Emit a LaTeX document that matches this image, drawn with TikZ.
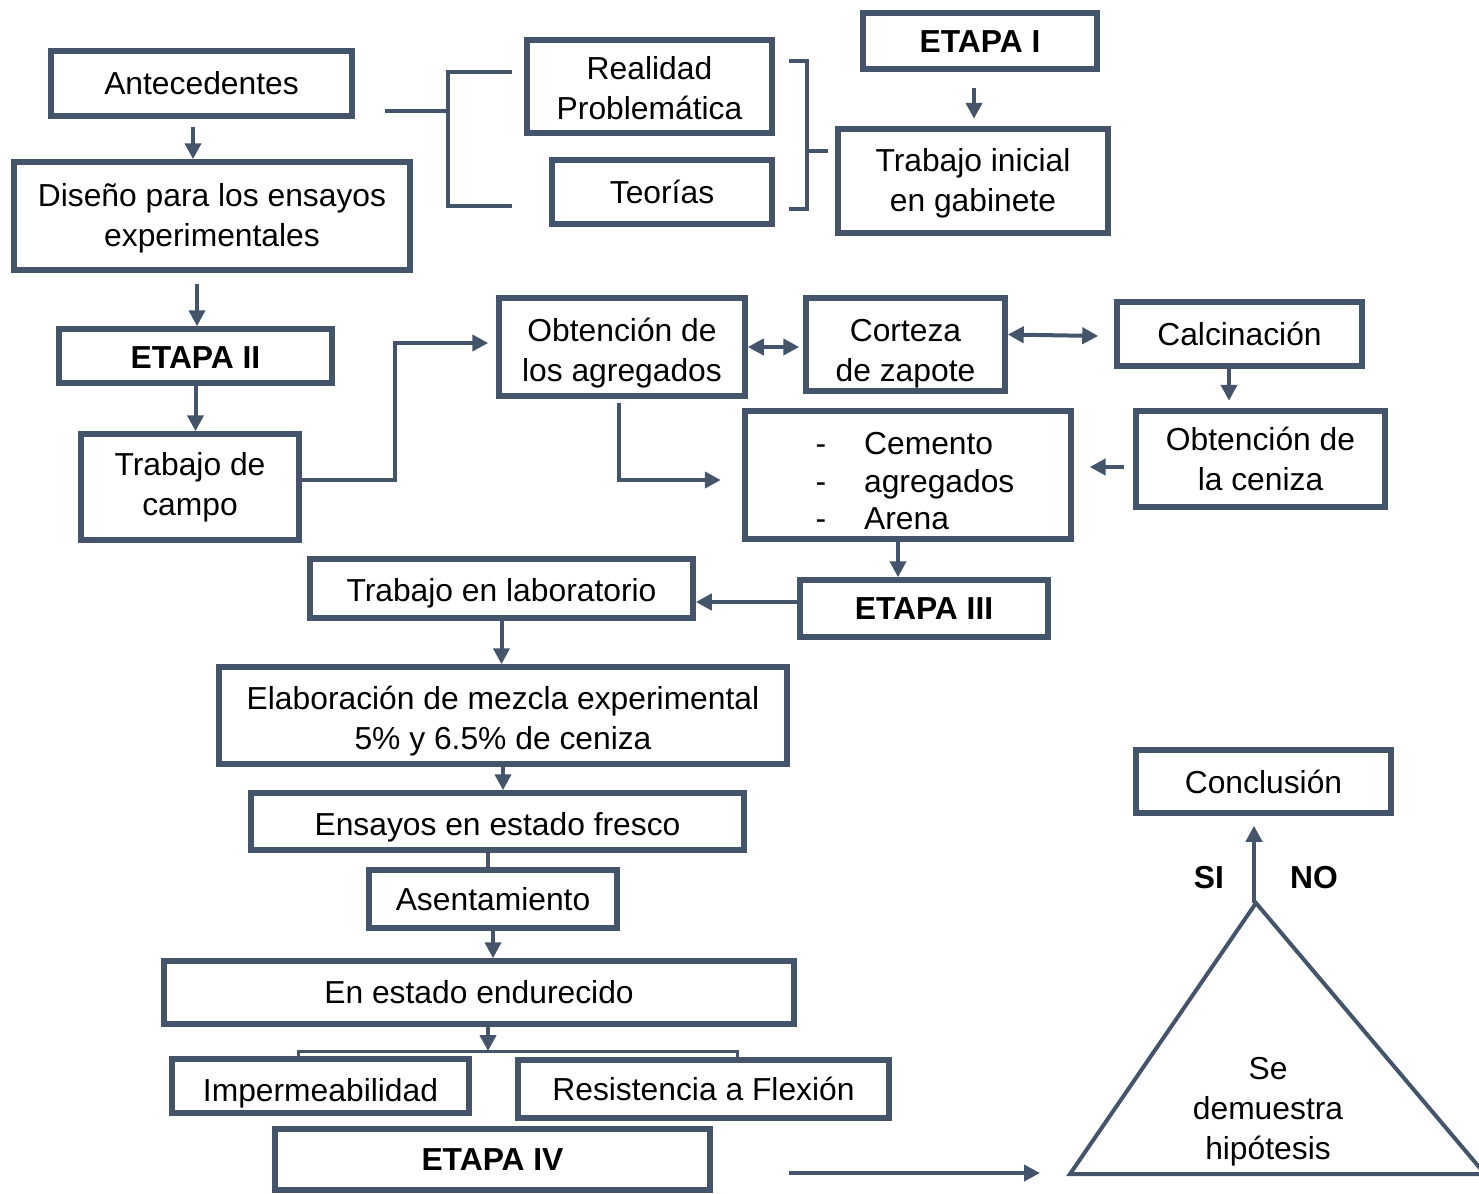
\documentclass[tikz,border=0pt]{standalone}
\usepackage{fontspec}
\setmainfont{Liberation Sans}
\usetikzlibrary{arrows.meta}
\definecolor{slate}{HTML}{44546A}
\newcommand\lowtext[2]{\raisebox{-#1}[\height][\depth]{\begin{tabular}{@{}c@{}}#2\end{tabular}}}
\tikzset{box/.style = {draw=slate, line width=2.75pt, rectangle, inner sep=0pt, align=center},
    arr/.style = {draw=slate, line width=2pt, -{Triangle[width=8pt,length=8pt]}},
    darr/.style = {draw=slate, line width=2pt, {Triangle[width=8pt,length=8pt]}-{Triangle[width=8pt,length=8pt]}},
    conn/.style = {draw=slate, line width=2pt}}

\begin{document}
\begin{tikzpicture}[x=0.5pt,y=-0.5pt,font=\fontsize{15.9pt}{20pt}\selectfont]
    \useasboundingbox(0,0)rectangle(1479,1194);
    \node[box,minimum width=150.5pt,minimum height=32.5pt](ante)at(201.5,83.5){Antecedentes};
    \node[box,minimum width=198pt,minimum height=54pt](dis)at(212,216){\lowtext{1pt}{Diseño para los ensayos\\experimentales}};
    \node[box,minimum width=122.5pt,minimum height=46.5pt](real)at(649.5,86.5){\lowtext{2.25pt}{Realidad\\Problemática}};
    \node[box,minimum width=110pt,minimum height=32pt](teo)at(662,192){Teorías};
    \node[box,minimum width=117pt,minimum height=28pt](et1)at(980,41){\lowtext{1.5pt}{\textbf{ETAPA I}}};
    \node[box,minimum width=135pt,minimum height=52pt](ini)at(973,181){\lowtext{1pt}{Trabajo inicial\\en gabinete}};
    \node[box,minimum width=136.5pt,minimum height=27pt](et2)at(195.5,356){\lowtext{2pt}{\textbf{ETAPA II}}};
    \node[box,minimum width=109pt,minimum height=53pt](campo)at(190,487){Trabajo de\\campo};
    \node[box,minimum width=123pt,minimum height=49pt](obt)at(622,347){\lowtext{3pt}{Obtención de\\los agregados}};
    \node[box,minimum width=99.5pt,minimum height=46.5pt](cort)at(905.5,344.5){\lowtext{4.25pt}{Corteza\\de zapote}};
    \node[box,minimum width=122.5pt,minimum height=32pt](calc)at(1239.5,334){Calcinación};
    \node[box,minimum width=124.5pt,minimum height=48pt](cen)at(1260.5,459){\lowtext{1.75pt}{Obtención de\\la ceniza}};
    \node[box,minimum width=163pt,minimum height=64pt](mat)at(908,475){\raisebox{-4.75pt}[\height][\depth]{\hspace*{7pt}\def\arraystretch{0.94}\begin{tabular}{@{}l@{\hspace{19pt}}l@{}}-&Cemento\\-&agregados\\-&Arena\end{tabular}}};
    \node[box,minimum width=191.5pt,minimum height=29.5pt](lab)at(501.5,588.5){\lowtext{2.5pt}{Trabajo en laboratorio}};
    \node[box,minimum width=124pt,minimum height=28.5pt](et3)at(924,608.5){\lowtext{1.5pt}{\textbf{ETAPA III}}};
    \node[box,minimum width=284pt,minimum height=48.5pt](mez)at(503,715.5){\lowtext{3pt}{Elaboración de mezcla experimental\\5\% y 6.5\% de ceniza}};
    \node[box,minimum width=246.5pt,minimum height=28.5pt](fres)at(497.5,821.5){\lowtext{3pt}{Ensayos en estado fresco}};
    \node[box,minimum width=124pt,minimum height=29pt](asen)at(493,899){\lowtext{1.5pt}{Asentamiento}};
    \node[box,minimum width=315pt,minimum height=31.5pt](endu)at(479,992.5){En estado endurecido};
    \node[box,minimum width=148.5pt,minimum height=27pt](imp)at(320.5,1086){\lowtext{3.5pt}{Impermeabilidad}};
    \node[box,minimum width=185.5pt,minimum height=29pt](flex)at(703.5,1089){Resistencia a Flexión};
    \node[box,minimum width=217.5pt,minimum height=30.5pt](et4)at(492.5,1159.5){\textbf{ETAPA IV}};
    \node[box,minimum width=127.5pt,minimum height=31.5pt](conc)at(1263.5,781.5){Conclusión};
    \node(si)at(1209,878){\textbf{SI}};
    \node(no)at(1314,878){\textbf{NO}};
    \node[align=center](hipo)at(1268,1112){Se\\demuestra\\hipótesis};
    \coordinate(bl)at(448,111);
    \coordinate(br)at(807,151);
    \coordinate(c1)at(395,343);
    \coordinate(sp)at(488,1051);
    \coordinate(hyp)at(1040,1173);
    \coordinate(apex)at(1256,903);
    \coordinate(baseL)at(1070,1174);
    \coordinate(baseR)at(1485,1174);
    \draw[conn]([xshift=15pt]ante.east|-bl)--(bl);
    \draw[conn]([xshift=-6.3pt,yshift=7.25pt]real.west)-|(bl)|-([xshift=-18.8pt,yshift=-7pt]teo.west);
    \draw[conn]([xshift=7.3pt,yshift=12.75pt]real.east)-|(br)|-([xshift=7.3pt,yshift=-8.5pt]teo.east);
    \draw[conn](br)--([xshift=-3.8pt,yshift=15pt]ini.west);
    \draw[arr]([xshift=-3pt,yshift=-8pt]et1.south)--++(0,31);
    \draw[arr]([xshift=-4.25pt,yshift=-4pt]ante.south)--([xshift=-4.25pt]ante.south|-dis.north);
    \draw[arr]([xshift=-7.5pt,yshift=-5.5pt]dis.south)--([xshift=-7.5pt]dis.south|-et2.north);
    \draw[arr](et2.south)--(et2.south|-campo.north);
    \draw[arr]([yshift=3.5pt]campo.east)-|(c1)--([xshift=-4pt]obt.west|-c1);
    \draw[arr]([xshift=-1.5pt,yshift=-2.3pt]obt.south)|-([xshift=-10.75pt,yshift=-2.5pt]mat.west);
    \draw[darr](obt.east)--([xshift=-2pt]obt.east-|cort.west);
    \draw[darr]([yshift=5pt]cort.east)--([xshift=-8pt,yshift=-1pt]calc.west);
    \draw[arr]([xshift=-5.25pt]calc.south)--++(0,32);
    \draw[arr]([xshift=-4.8pt,yshift=-4pt]cen.west)--++(-34,0);
    \draw[arr]([xshift=-5pt]mat.south)--([xshift=-5pt]mat.south|-et3.north);
    \draw[arr]([yshift=3.25pt]et3.west)--([yshift=3.25pt]et3.west-|lab.east);
    \draw[arr](lab.south)--(lab.south|-mez.north);
    \draw[arr](mez.south)--(mez.south|-fres.north);
    \draw[conn]([xshift=-4.75pt]fres.south)--([xshift=-4.75pt]fres.south|-asen.north);
    \draw[arr](asen.south)--(asen.south|-endu.north);
    \draw[arr]([xshift=4.5pt]endu.south)--(sp);
    \draw[slate,line width=1.5pt]([xshift=-11.25pt]imp.north)|-(sp)-|([xshift=16.75pt]flex.north);
    \draw[arr]([xshift=38pt]et4.east|-hyp)--(hyp);
    \draw[slate,line width=2pt](apex)--(baseR)--(baseL)--cycle;
    \draw[arr]([xshift=-1pt]apex)--([xshift=-1pt,yshift=-5pt]apex|-conc.south);
\end{tikzpicture}
\end{document}
